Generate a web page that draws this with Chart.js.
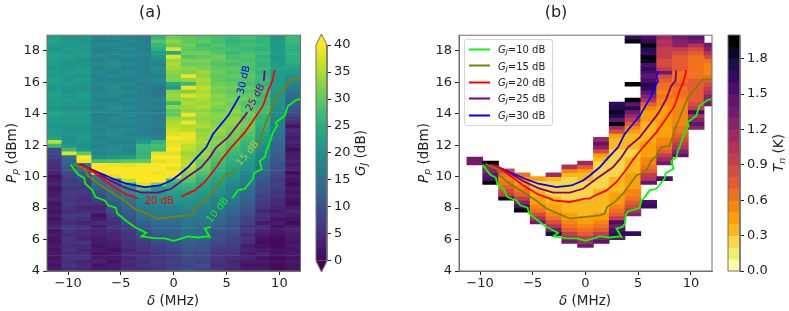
<!DOCTYPE html>
<html>
<head>
<meta charset="utf-8">
<title>Gain and noise temperature</title>
<script src="https://cdn.jsdelivr.net/npm/chart.js@4"></script>
<style>
  body { margin: 0; background: #fff; }
  #wrap { position: relative; width: 789px; height: 311px; overflow: hidden; font-family: "DejaVu Sans", sans-serif; color: #222; }
  canvas { position: absolute; top: 0; }
  .axis-label { position: absolute; font-size: 13.5px; white-space: nowrap; transform: translate(-50%, -50%); }
  .axis-label.rot { transform: translate(-50%, -50%) rotate(-90deg); }
  .axis-label sub, #legend sub { font-size: 70%; line-height: 0; vertical-align: -0.25em; }
  #legend { position: absolute; left: 464px; top: 39px; width: 87px; height: 85px; border: 1px solid #d6d6d6; border-radius: 3px; background: rgba(255,255,255,0.85); font-size: 10px; }
  #legend div { position: absolute; left: 33px; white-space: nowrap; transform: translateY(-50%); }
  #legend span { position: absolute; left: -29px; top: 50%; width: 21px; height: 2px; margin-top: -1px; }
</style>
</head>
<body>
<div id="wrap">
  <canvas id="panelA" width="346" height="311" style="left:0"></canvas>
  <canvas id="barA" width="89" height="311" style="left:300px"></canvas>
  <canvas id="panelB" width="371" height="311" style="left:400px"></canvas>
  <canvas id="barB" width="69" height="311" style="left:712px"></canvas>
  <div id="legend"></div>
  <div class="axis-label rot" style="left:11px;top:153px"><i>P<sub>p</sub></i> (dBm)</div>
  <div class="axis-label" style="left:173px;top:300px"><i>δ</i> (MHz)</div>
  <div class="axis-label rot" style="left:360px;top:153px"><i>G<sub>J</sub></i> (dB)</div>
  <div class="axis-label rot" style="left:423px;top:153px"><i>P<sub>p</sub></i> (dBm)</div>
  <div class="axis-label" style="left:585px;top:300px"><i>δ</i> (MHz)</div>
  <div class="axis-label rot" style="left:778px;top:153px"><i>T<sub>n</sub></i> (K)</div>
</div>

<script>
// ---------- Axis ticks ----------
const gainTicks = [0, 5, 10, 15, 20, 25, 30, 35, 40];
const tnTicks = [0, 0.3, 0.6, 0.9, 1.2, 1.5, 1.8];

// ---------- Panel (a): gain in dB, one list per column, bottom row first ----------
const gainCol0 = [3,2,3,2,3,2,3,2,2,3, 2,4,3,2,3,2,3,2,4,3, 3,2,4,3,2,4,5,5,6,8, 9,9,27,36,23,22,22,21,22,22, 23,22,21,22,22,23,22,21,22,23, 22,22,21,22,22,23,22,21,22,23, 22];
const gainCol1 = [5,6,5,6,5,6,5,6,6,5, 6,7,5,6,7,5,6,7,6,7, 7,6,8,7,8,9,11,12,13,14, 38,27,21,20,20,21,20,21,22,21, 22,21,20,21,22,21,20,21,22,21, 21,22,21,20,21,22,21,22,21,22, 21];
const gainCol2 = [4,5,4,6,5,4,5,6,4,5, 5,6,4,5,7,5,4,6,5,6, 7,6,7,8,10,12,14,16,39,40, 30,21,20,21,22,21,20,21,22,21, 22,21,20,21,22,22,21,20,21,22, 21,22,22,21,20,21,22,21,22,21, 21];
const gainCol3 = [3,2,4,3,2,3,2,3,3,4, 4,3,5,3,2,5,4,6,8,9, 10,12,14,15,17,39,40,40,28,20, 18,19,18,19,18,19,18,19,18,18, 18,19,18,19,18,19,18,18,19,18, 18,19,18,19,18,19,18,18,19,18, 18];
const gainCol4 = [3,3,2,3,3,2,3,3,4,4, 5,6,5,6,8,9,10,11,12,13, 14,15,17,19,38,40,40,39,29,21, 19,20,19,18,19,20,19,18,19,19, 18,19,20,19,18,19,19,20,19,18, 19,18,19,20,19,18,19,18,19,18, 19];
const gainCol5 = [5,4,5,4,5,4,5,5,6,6, 7,8,9,10,11,12,13,14,15,17, 19,21,25,36,40,40,40,38,30,22, 19,18,19,18,19,18,19,18,19,18, 19,18,19,18,19,18,19,18,19,18, 18,19,18,19,18,19,18,19,18,19, 18];
const gainCol6 = [5,6,5,6,5,6,6,7,8,9, 10,11,12,14,15,16,17,18,19,21, 23,29,38,40,40,40,40,39,30,27, 26,27,27,21,19,18,17,18,17,18, 18,17,18,17,18,18,17,18,17,18, 18,17,18,18,17,18,18,17,18,17, 17];
const gainCol7 = [6,6,7,6,7,7,8,9,10,11, 12,13,14,15,16,17,18,19,20,21, 21,22,32,40,40,39,40,40,38,40, 38,27,28,26,18,17,16,17,18,16, 17,16,18,17,18,16,15,16,18,19, 18,19,20,18,19,21,22,25,27,29, 26];
const gainCol8 = [8,7,8,7,8,8,9,10,11,12, 12,13,14,15,16,17,18,20,21,22, 23,24,25,28,39,40,38,40,39,40, 38,40,39,38,40,38,37,36,35,34, 30,30,33,27,33,34,33,22,24,32, 32,33,34,35,34,38,24,38,31,33, 31];
const gainCol9 = [9,8,9,9,10,10,11,12,13,14, 14,15,16,16,17,18,19,20,21,22, 23,25,27,29,31,33,35,36,36,35, 34,36,36,38,39,39,36,35,39,34, 39,33,34,35,34,38,32,39,27,33, 39,32,33,31,32,29,31,30,31,30, 30];
const gainCol10 = [8,9,8,9,9,10,10,11,12,13, 13,14,15,16,17,17,18,19,20,21, 22,23,24,25,27,29,30,31,31,33, 34,33,34,35,34,34,33,35,34,33, 34,33,35,34,35,36,35,36,34,35, 33,34,32,31,32,30,31,29,28,30, 29];
const gainCol11 = [6,5,6,6,7,7,8,9,10,10, 11,12,13,14,14,15,16,17,18,19, 20,21,22,23,24,25,26,27,28,29, 30,31,32,33,32,33,34,33,32,33, 33,31,32,33,32,33,31,32,31,30, 30,31,30,29,30,31,29,28,29,28, 28];
const gainCol12 = [4,5,4,5,6,6,7,8,8,9, 10,10,11,11,12,13,14,15,16,17, 17,18,19,20,21,22,23,24,25,26, 27,28,29,30,31,31,32,32,33,33, 32,33,32,31,32,31,30,31,30,29, 30,29,30,28,29,28,27,28,27,26, 27];
const gainCol13 = [3,2,3,4,3,4,3,5,6,5, 7,6,8,8,9,10,11,12,12,13, 14,15,16,17,18,19,20,21,22,23, 24,25,26,27,28,29,30,31,31,30, 31,30,30,29,31,30,29,30,28,29, 30,29,28,29,28,29,28,27,28,27, 28];
const gainCol14 = [3,2,3,2,4,3,2,1,2,3, 4,5,3,5,6,4,6,7,8,8, 9,10,10,11,12,13,14,15,16,17, 18,19,20,21,22,23,24,25,26,26, 27,28,28,27,28,27,28,27,26,27, 27,26,27,26,27,26,27,26,27,26, 26];
const gainCol15 = [1,1,2,1,2,2,1,1,1,2, 3,2,3,2,4,3,4,5,5,6, 6,7,8,7,8,9,10,10,11,12, 12,13,13,14,15,15,16,17,17,18, 19,19,20,20,21,21,21,22,22,22, 22,22,23,22,22,21,22,22,21,22, 21];
const gainCol16 = [2,2,3,2,3,2,3,2,3,3, 4,3,1,2,3,4,3,1,2,3, 2,3,1,2,3,1,4,3,4,3, 3,1,3,4,3,4,5,2,5,7, 9,10,11,12,13,14,15,17,18,19, 20,22,23,24,25,25,26,25,26,27, 27];
const gainCols = [gainCol0, gainCol1, gainCol2, gainCol3, gainCol4, gainCol5, gainCol6, gainCol7, gainCol8,
  gainCol9, gainCol10, gainCol11, gainCol12, gainCol13, gainCol14, gainCol15, gainCol16];

// ---------- Panel (b): noise temperature in K, per column, from its first measured row up ----------
const tnFirstRow = [27, 22, 18, 15, 12, 9, 7, 6, 7, 8, 9, 16, 23, 29, 36, 42];
const tnCol1 = [1.3,1.35];
const tnCol2 = [1.95,1.5,1.4,1.25,1.1,1.9];
const tnCol3 = [1.8,.95,.8,.7,.65,.55,.6,.8];
const tnCol4 = [1.9,1.5,1.2,.9,.7,.6,.5,.45,.4,.6];
const tnCol5 = [1.3,1.0,.8,.6,.5,.45,.4,.35,.3,.25,.25,.45];
const tnCol6 = [1.7,1.3,1.0,.8,.65,.5,.45,.4,.35,.35,.25,.2,.2,.25,.35,1.1];
const tnCol7 = [1.3,1.1,.9,.75,.6,.5,.45,.4,.35,.35,.3,.25,.25,.2,.2,.2,.25,.3,.5,1.0];
const tnCol8 = [1.3,1.1,.9,.7,.6,.5,.45,.4,.35,.35,.3,.3,.25,.25,.2,.2,.25,.3,.35,.4,.7,1.1];
const tnCol9 = [1.4,1.2,.9,.75,.6,.5,.45,.4,.35,.35,.35,.3,.3,.3,.25,.25,.25,.2,.2,.25,.25,.3,.4,.8,1.2,1.4,1.1];
const tnCol10 = [1.4,1.6,1.5,1.3,1.5,.9,.75,.6,.5,.45,.4,.4,.35,.35,.3,.3,.25,.25,.25,.2,.2,.25,.25,.3,.3,.35,.45,.8,1.1,1.9,1.4,1.7,1.8,1.75,1.6];
const tnCol11 = [1.6,null,null,null,null,1.2,1.0,.8,.7,.6,.55,.5,.45,.45,.4,.4,.35,.35,.3,.3,.25,.25,.3,.3,.35,.35,.45,.55,.7,.9,1.1,1.3,1.7,1.4,1.95,null,null,null,1.95,null,null,null,null,null,null,null,null,null,null,1.95,1.6];
const tnCol12 = [1.6,1.5,null,null,null,null,1.4,1.0,.9,.75,.65,.55,.5,.45,.45,.4,.4,.35,.35,.35,.35,.35,.4,.4,.45,.5,.7,1.0,1.2,1.4,1.6,1.7,1.5,1.4,1.5,1.6,1.5,1.8,1.9,1.6,1.7,1.9,1.6,1.5];
const tnCol13 = [1.5,null,null,null,1.3,1.1,.9,.75,.65,.55,.5,.45,.45,.4,.4,.4,.4,.45,.45,.5,.55,.6,.55,.6,.65,.7,.8,1.3,.9,.8,.85,.9,.9,.95,1.0,1.0,1.1];
const tnCol14 = [1.4,1.2,1.0,.9,.8,.7,.65,.6,.55,.55,.5,.5,.5,.5,.55,.6,.6,.65,.7,.65,.65,.65,.7,.7,.75,.75,.8,.9,1.2,1.2,1.3];
const tnCol15 = [1.2,1.4,1.2,1.0,1.5,.9,.8,.75,.7,.7,.7,.7,.7,.65,.65,.6,.6,.6,.65,.7,.8,1.0,1.3,1.4];
const tnCol16 = [1.3,1.2,1.2,1.0,.9,.8,.7,.6,.55,.5,.55,.6,.8,1.0,1.2,1.3];
const tnCols = [tnCol1, tnCol2, tnCol3, tnCol4, tnCol5, tnCol6, tnCol7, tnCol8, tnCol9, tnCol10, tnCol11, tnCol12, tnCol13, tnCol14, tnCol15, tnCol16];

// ---------- Contours, [delta, pump power] ----------
const contour10 = [[-9.75,10.77],[-9.3,10.35],[-9.05,10.14],[-8.5,9.93],[-8.37,9.55],[-7.73,9.17],[-7.4,8.7],[-6.53,8.49],[-6.2,8.18],[-5.5,8.03],[-5.33,7.65],[-4.48,7.18],[-3.7,6.8],[-2.6,6.42],[-3.06,6.2],[-1.8,6.09],[-0.85,6.07],[0,5.92],[0.6,6.05],[1.35,6.2],[2.3,6.13],[3.24,6.2],[3.4,6.17],[2.93,6.7],[3.5,6.8],[3.72,7.0],[3.85,7.6],[4.03,7.8],[5.14,8.0],[5.3,8.49],[5.55,8.64],[6.08,9.13],[6.72,9.23],[7.5,9.87],[7.6,10.22],[8.35,10.5],[8.13,10.98],[8.66,11.28],[8.76,11.66],[8.92,11.87],[9.39,12.82],[9.8,13.24],[9.65,13.45],[10.5,13.87],[10.81,14.5],[11.6,14.89],[11.95,14.93]];
const contour15 = [[-9.53,10.82],[-8.36,10.5],[-8.17,10.08],[-7.16,9.55],[-5.9,9.02],[-4.48,8.39],[-3.7,7.97],[-2.6,7.65],[-1.49,7.33],[0,7.44],[1.35,7.54],[1.83,7.65],[2.05,8.07],[2.77,8.39],[3.56,8.92],[4.83,10.08],[5.61,10.28],[5.86,10.5],[6.25,11.03],[6.72,11.3],[6.87,11.55],[7.19,11.87],[7.8,11.95],[7.98,11.97],[8.61,13.24],[9.71,15.03],[11.13,16.2],[11.92,16.2]];
const contour20 = [[-9.05,10.77],[-8.27,10.6],[-7.16,10.08],[-5.9,9.44],[-4.48,8.87],[-3.43,8.62],[-3.06,8.49],[-1.49,8.39],[0,8.6],[0.41,8.6],[0.66,8.72],[1.99,9.13],[2.93,9.65],[4.03,10.6],[4.5,11.07],[5.45,11.87],[6.72,12.82],[7.5,13.56],[8.45,14.5],[8.92,15.46],[9.33,16.09],[9.56,16.78]];
const contour25 = [[-8.9,10.77],[-8.1,10.56],[-7.16,10.22],[-5.9,9.72],[-4.48,9.27],[-3.06,8.98],[-1.49,8.98],[-0.23,9.23],[1.04,9.87],[2.6,10.6],[3.4,11.23],[4.03,11.87],[5.14,12.5],[6.72,13.87],[6.97,14.1],[7.66,14.93],[8.13,15.77],[8.53,16.1],[8.6,16.75]];
const contour30 = [[-8.74,10.77],[-7.95,10.5],[-7.16,10.28],[-5.74,9.87],[-4.48,9.55],[-2.74,9.33],[-1.32,9.44],[-0.23,9.76],[0.41,10.08],[1.35,10.6],[1.99,11.08],[3.08,11.87],[3.72,12.72],[5.14,13.87],[6.25,15.14],[6.4,15.46],[6.87,16.09],[6.72,16.4],[6.93,16.72]];
const contours = [contour10, contour15, contour20, contour25, contour30];
const contourLevels = [10, 15, 20, 25, 30];
const contourColors = ["#00ff00", "#808000", "#ff0000", "#800080", "#0000ff"];

// inline labels of panel (a) and the stretch of each line they interrupt
const labelX = [4.16, 7.0, -1.39, 7.75, 6.65];
const labelY = [7.86, 11.47, 8.45, 15.03, 16.15];
const labelAngle = [-52, -50, 0, -62, -77];
const labelColors = ["#00ff00", "#d0c030", "#ff0000", "#800080", "#0000ff"];
const gapFrom = [3.5, 5.86, -3.43, 6.97, 6.25];
const gapTo = [5.55, 7.8, 0.66, 8.53, 99];

// ---------- Colours ----------
const viridisStops = ["#440154", "#482878", "#3e4989", "#31688e", "#26828e", "#1f9e89", "#35b779", "#6ece58", "#b5de2b", "#fde725"];
const tnPalette = ["#fcffa4", "#f1ed6f", "#f6d746", "#fbb81d", "#fca007", "#f8850f", "#f1711f", "#e55c30", "#d74b3f", "#c43c4e",
  "#b4325a", "#9f2a63", "#89226a", "#741a6e", "#61136e", "#4b0c6b", "#330a5f", "#1f0c48", "#0b0724", "#000004"];

function viridis(v) {
  let t = Math.min(Math.max(v / 40, 0), 1) * (viridisStops.length - 1);
  let i = Math.min(Math.floor(t), viridisStops.length - 2);
  let a = viridisStops[i], b = viridisStops[i + 1], f = t - i;
  let out = [1, 3, 5].map(p => {
    let ca = parseInt(a.substr(p, 2), 16), cb = parseInt(b.substr(p, 2), 16);
    return Math.round(ca + (cb - ca) * f);
  });
  return `rgb(${out[0]},${out[1]},${out[2]})`;
}

function tnColor(v) {
  return tnPalette[Math.min(Math.floor(v * 10), 19)];
}

// ---------- Plugins ----------
const framePlugin = {
  id: "frame",
  afterDraw(chart) {
    if (chart.canvas.id.indexOf("panel") !== 0) return;
    let a = chart.chartArea, ctx = chart.ctx;
    ctx.save();
    ctx.strokeStyle = "#707070";
    ctx.lineWidth = 1;
    ctx.strokeRect(a.left, a.top, a.right - a.left, a.bottom - a.top);
    ctx.restore();
  }
};

const contourLabelPlugin = {
  id: "contourLabels",
  afterDatasetsDraw(chart) {
    if (chart.canvas.id !== "panelA") return;
    let ctx = chart.ctx;
    ctx.save();
    ctx.font = "10px 'DejaVu Sans'";
    ctx.textAlign = "center";
    ctx.textBaseline = "middle";
    contourLevels.forEach((level, i) => {
      ctx.save();
      ctx.translate(chart.scales.x.getPixelForValue(labelX[i]), chart.scales.y.getPixelForValue(labelY[i]));
      ctx.rotate(labelAngle[i] * Math.PI / 180);
      ctx.fillStyle = labelColors[i];
      ctx.fillText(`${level} dB`, 0, 0);
      ctx.restore();
    });
    ctx.restore();
  }
};

Chart.register(framePlugin, contourLabelPlugin);
Chart.defaults.font.family = "'DejaVu Sans'";
Chart.defaults.font.size = 13;
Chart.defaults.color = "#222";
Chart.defaults.animation = false;

// ---------- Datasets ----------
function gainCells() {
  let cells = [], colors = [];
  gainCols.forEach((col, k) => {
    col.forEach((v, r) => {
      cells.push({ x: -12 + (k + 0.5) * 24 / 17, y: [4 + r * 15 / 61, 4 + (r + 1) * 15 / 61] });
      colors.push(viridis(v));
    });
  });
  return { type: "bar", data: cells, backgroundColor: colors, order: 2, barPercentage: 1, categoryPercentage: 1 };
}

function tnCells() {
  let cells = [], colors = [];
  tnCols.forEach((col, n) => {
    col.forEach((v, i) => {
      if (v === null) return;
      let r = tnFirstRow[n] + i;
      cells.push({ x: -12 + 1.5 * (n + 1), y: [4 + r * 0.25, 4 + (r + 1) * 0.25] });
      colors.push(tnColor(v));
    });
  });
  return { type: "bar", data: cells, backgroundColor: colors, order: 2, barPercentage: 1, categoryPercentage: 1 };
}

function contourLines(withGaps) {
  return contours.map((line, i) => ({
    type: "line",
    label: `${contourLevels[i]} dB`,
    data: line.map(p => {
      let hidden = withGaps && p[0] > gapFrom[i] && p[0] < gapTo[i];
      return { x: p[0], y: hidden ? null : p[1] };
    }),
    borderColor: contourColors[i],
    borderWidth: 1.8,
    pointRadius: 0,
    tension: 0,
    spanGaps: false,
    order: 1
  }));
}

// ---------- Charts ----------
function panelChart(canvasId, datasets, title, leftWidth, rightPad) {
  new Chart(document.getElementById(canvasId), {
    type: "bar",
    data: { datasets },
    options: {
      responsive: false,
      layout: { padding: { right: rightPad } },
      plugins: {
        legend: { display: false },
        tooltip: { enabled: false },
        title: { display: true, text: title, font: { size: 16, weight: "normal" }, padding: { top: 3, bottom: 13 } }
      },
      scales: {
        x: {
          type: "linear", min: -12, max: 12, offset: false,
          grid: { drawOnChartArea: false, tickLength: 4, tickColor: "#222", offset: false },
          border: { color: "#707070" },
          afterFit: s => { s.height = 40; },
          ticks: {
            stepSize: 5, includeBounds: false, padding: 1, maxRotation: 0, autoSkip: false,
            callback: v => String(v).replace("-", "\u2212")
          }
        },
        y: {
          type: "linear", min: 4, max: 19,
          grid: { drawOnChartArea: false, tickLength: 4, tickColor: "#222" },
          border: { color: "#707070" },
          afterFit: s => { s.width = leftWidth; },
          ticks: { stepSize: 2, includeBounds: false, padding: 3, autoSkip: false }
        }
      }
    }
  });
}

panelChart("panelA", [gainCells()].concat(contourLines(true)), "(a)", 47, 45.5);
panelChart("panelB", [tnCells()].concat(contourLines(false)), "(b)", 59, 59);

function colorbarChart(canvasId, datasets, min, max, tickValues, fmt, pad, axisWidth) {
  new Chart(document.getElementById(canvasId), {
    type: "bar",
    data: { datasets },
    options: {
      responsive: false,
      layout: { padding: pad },
      plugins: { legend: { display: false }, tooltip: { enabled: false } },
      scales: {
        x: { type: "linear", min: 0, max: 1, offset: false, display: false, ticks: { stepSize: 1 } },
        y: {
          type: "linear", position: "right", min, max,
          grid: { drawOnChartArea: false, tickLength: 4, tickColor: "#222" },
          border: { display: false },
          afterBuildTicks: s => { s.ticks = tickValues.map(v => ({ value: v })); },
          afterFit: s => { s.width = axisWidth; },
          ticks: { padding: 3, autoSkip: false, callback: fmt }
        }
      }
    }
  });
}

// gain colorbar, continuous, with both extend arrows
let gainSteps = [];
for (let v = 0; v < 40; v += 0.5) gainSteps.push(v);
const arrowGain = 2.05;

colorbarChart("barA", [
  { type: "bar", data: gainSteps.map(v => ({ x: 0.5, y: [v, v + 0.5] })), backgroundColor: gainSteps.map(v => viridis(v + 0.25)),
    order: 3, barPercentage: 1, categoryPercentage: 1 },
  { type: "line", data: [{ x: 0, y: 40 }, { x: 0.5, y: 40 + arrowGain }, { x: 1, y: 40 }], fill: { target: { value: 40 } },
    backgroundColor: viridis(40), borderWidth: 0, pointRadius: 0, order: 2 },
  { type: "line", data: [{ x: 0, y: 0 }, { x: 0.5, y: -arrowGain }, { x: 1, y: 0 }], fill: { target: { value: 0 } },
    backgroundColor: viridis(0), borderWidth: 0, pointRadius: 0, order: 2 },
  { type: "line", data: [{ x: 0, y: 0 }, { x: 0, y: 40 }, { x: 0.5, y: 40 + arrowGain }, { x: 1, y: 40 }, { x: 1, y: 0 }, { x: 0.5, y: -arrowGain }, { x: 0, y: 0 }],
    borderColor: "#707070", borderWidth: 1, pointRadius: 0, clip: false, order: 1 }
], -arrowGain, 40 + arrowGain, gainTicks, v => String(v), { left: 16, top: 34, bottom: 39 }, 62);

// noise colorbar, one band per palette entry
colorbarChart("barB", [
  { type: "bar", data: tnPalette.map((c, i) => ({ x: 0.5, y: [i / 10, (i + 1) / 10] })), backgroundColor: tnPalette,
    order: 2, barPercentage: 1, categoryPercentage: 1 },
  { type: "line", data: [{ x: 0, y: 0 }, { x: 0, y: 2 }, { x: 1, y: 2 }, { x: 1, y: 0 }, { x: 0, y: 0 }],
    borderColor: "#707070", borderWidth: 1, pointRadius: 0, clip: false, order: 1 }
], 0, 2, tnTicks, v => v.toFixed(1), { left: 16, top: 35, bottom: 40 }, 41);

// ---------- Legend ----------
const legendRowTops = [9, 25.5, 42, 58, 75];
let legendBox = document.getElementById("legend");
contourLevels.forEach((level, i) => {
  legendBox.innerHTML += `<div style="top:${legendRowTops[i]}px"><span style="background:${contourColors[i]}"></span><i>G<sub>J</sub></i>=${level} dB</div>`;
});
</script>
</body>
</html>
